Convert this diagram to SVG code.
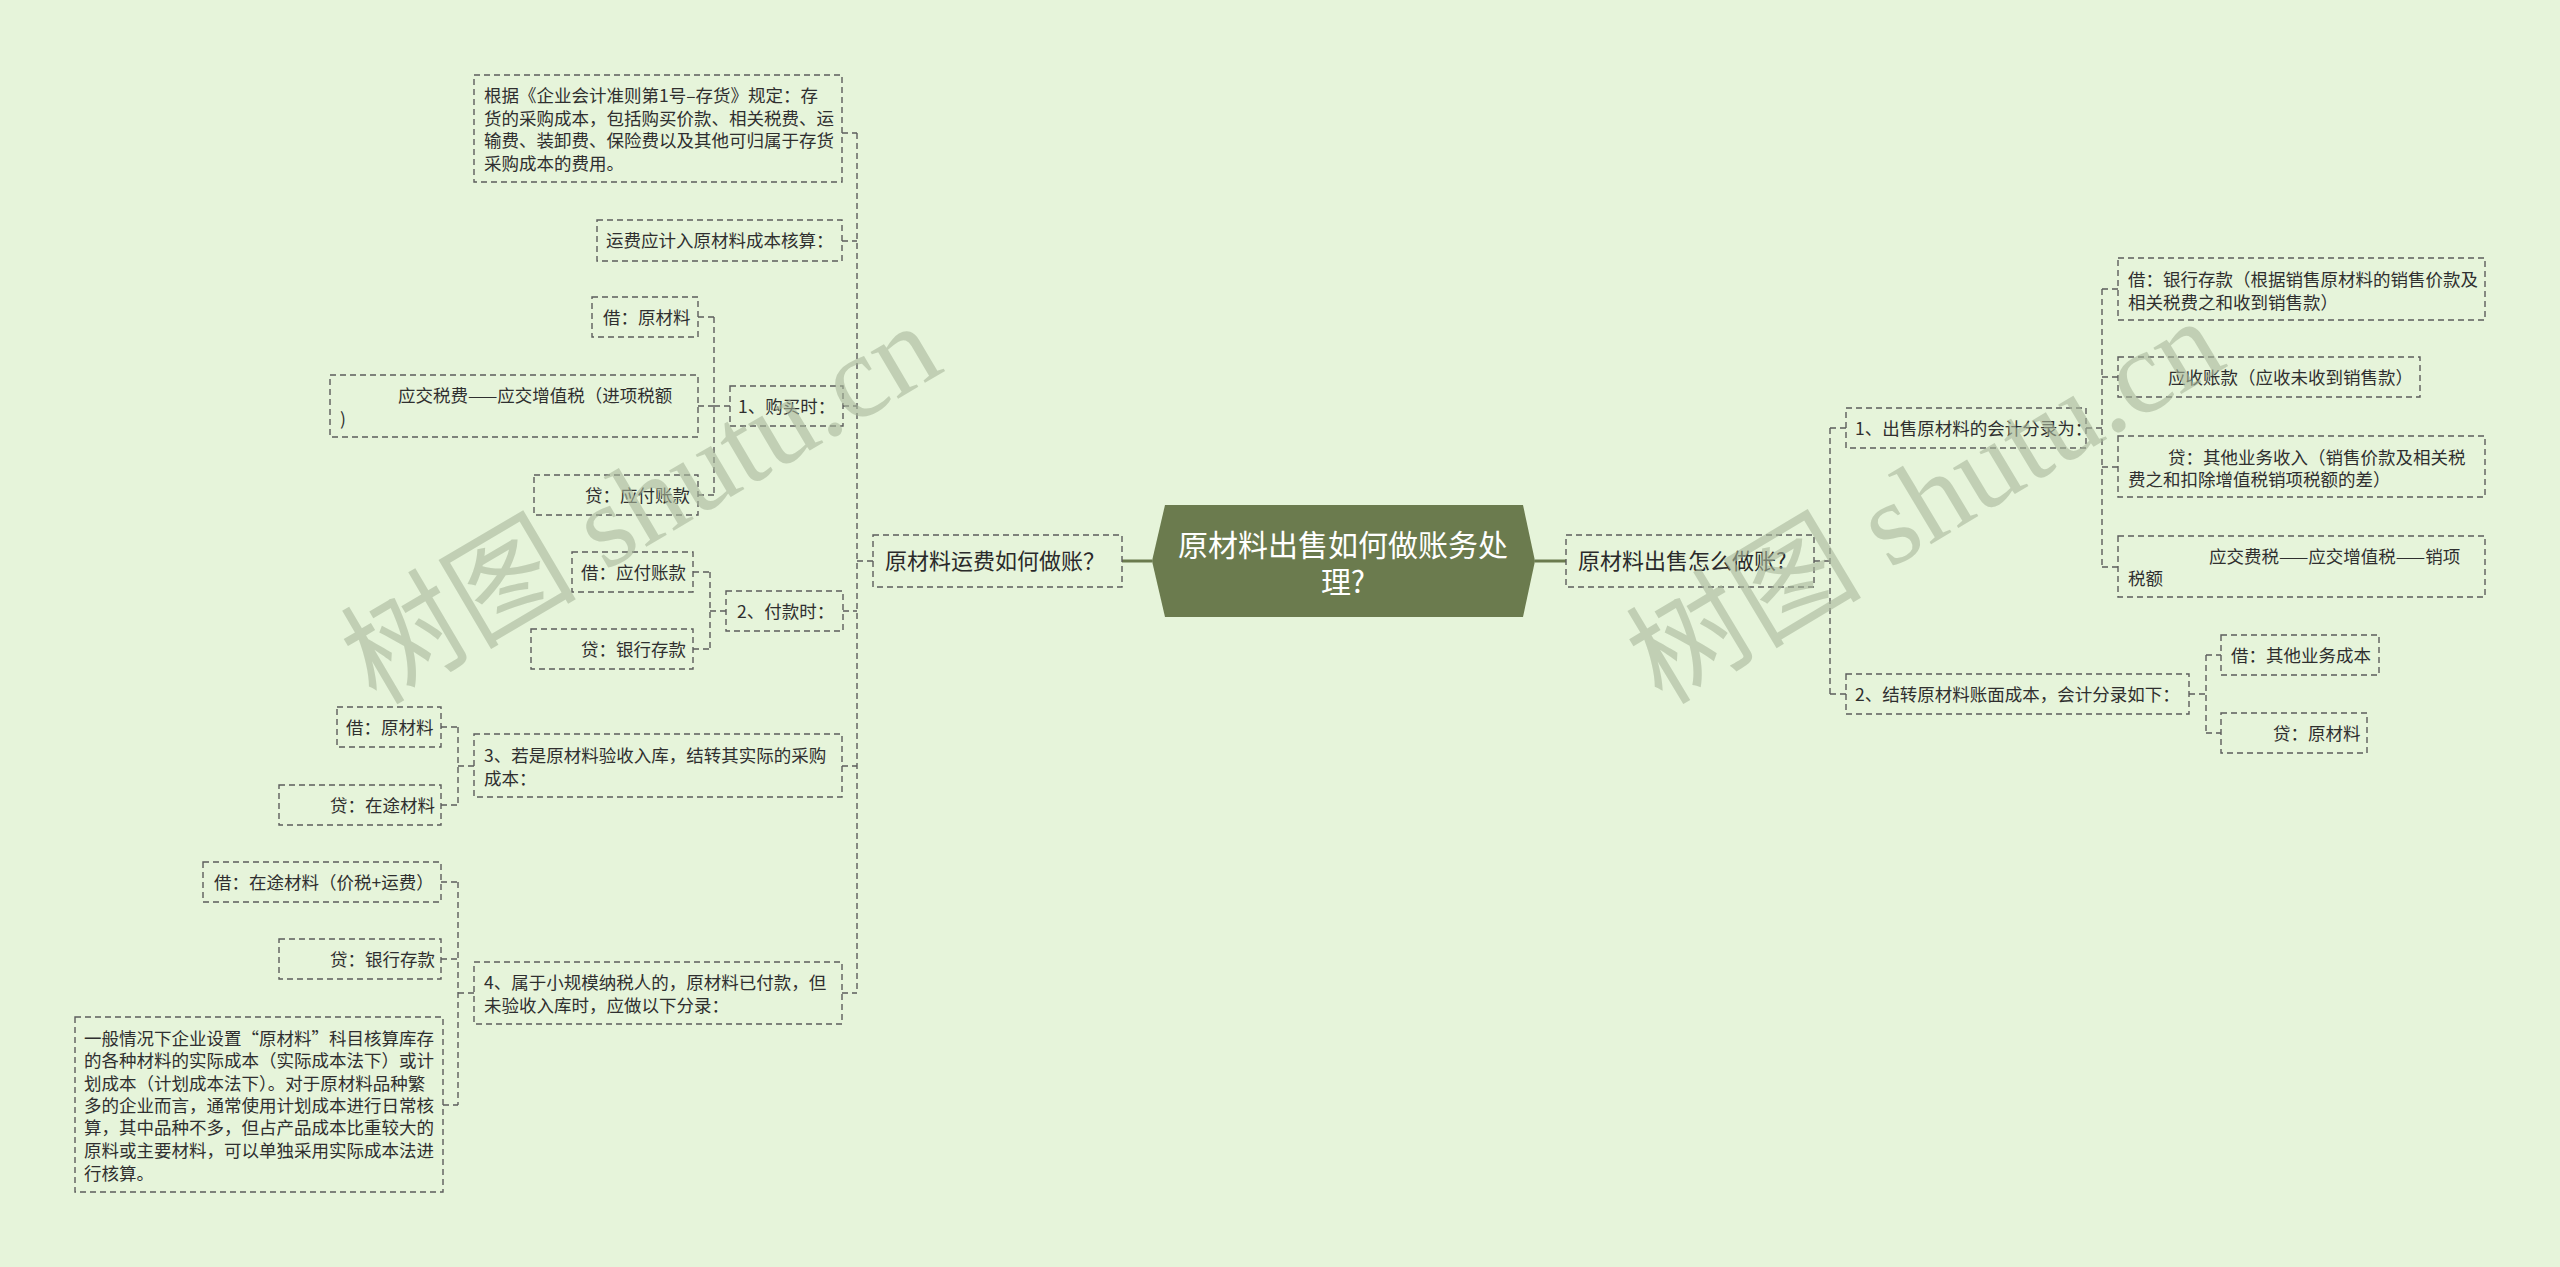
<svg xmlns="http://www.w3.org/2000/svg" width="2560" height="1267" viewBox="0 0 2560 1267">
<style>
.bg{fill:#e6f4da}
.box{fill:none;stroke:#5c5c5c;stroke-width:1.4;stroke-dasharray:6 4}
.t{font-family:"Noto Sans CJK SC","Noto Sans",sans-serif;font-size:17.5px;fill:#2f2f2f}
.m{font-family:"Noto Sans CJK SC","Noto Sans",sans-serif;font-size:22px;fill:#2a2a2a}
.c{font-family:"Noto Sans CJK SC","Noto Sans",sans-serif;font-size:30px;fill:#ffffff;text-anchor:middle}
.dl{fill:none;stroke:#5c5c5c;stroke-width:1.4;stroke-dasharray:6 4}
.sl{fill:none;stroke:#6b7b4e;stroke-width:3}
.wm{font-family:"Liberation Serif","Noto Sans CJK SC",serif;font-size:118px;fill:#a9b89c;opacity:0.6}
</style>
<rect class="bg" x="0" y="0" width="2560" height="1267"/>

<g id="connectors">
<path class="sl" d="M1122,561 H1152"/>
<path class="sl" d="M1535,561 H1566"/>
<path class="dl" d="M873,561 H857 M857,133 V993 M842,133 H857 M842,241 H857 M843,406 H857 M843,611 H857 M842,766 H857 M842,993 H857"/>
<path class="dl" d="M730,406 H714 M714,317 V495 M698,317 H714 M698,406 H714 M698,495 H714"/>
<path class="dl" d="M726,611 H710 M710,572 V649 M693,572 H710 M693,649 H710"/>
<path class="dl" d="M474,766 H458 M458,727 V805 M441,727 H458 M441,805 H458"/>
<path class="dl" d="M474,993 H458 M458,882 V1105 M441,882 H458 M441,959 H458 M443,1105 H458"/>
<path class="dl" d="M1814,561 H1830 M1830,428 V694 M1830,428 H1846 M1830,694 H1846"/>
<path class="dl" d="M2086,428 H2102 M2102,289 V567 M2102,289 H2118 M2102,377 H2118 M2102,467 H2118 M2102,567 H2118"/>
<path class="dl" d="M2189,694 H2206 M2206,655 V733 M2206,655 H2221 M2206,733 H2221"/>
</g>

<g id="center">
<polygon points="1152,561 1165,505 1523,505 1535,561 1523,617 1165,617" fill="#6b7b4e"/>
<text class="c" x="1343" y="556">原材料出售如何做账务处</text>
<text class="c" x="1343" y="593">理?</text>
</g>

<g id="n_lmain">
<rect class="box" x="873" y="535" width="249" height="52"/>
<text class="m" x="885" y="569">原材料运费如何做账？</text>
</g>
<g id="n_rmain">
<rect class="box" x="1566" y="535" width="248" height="52"/>
<text class="m" x="1578" y="569">原材料出售怎么做账?</text>
</g>

<g id="n_l1">
<rect class="box" x="474" y="75" width="368" height="107"/>
<text class="t"><tspan x="484" y="102">根据《企业会计准则第1号–存货》规定：存</tspan><tspan x="484" y="125">货的采购成本，包括购买价款、相关税费、运</tspan><tspan x="484" y="147">输费、装卸费、保险费以及其他可归属于存货</tspan><tspan x="484" y="170">采购成本的费用。</tspan></text>
</g>
<g id="n_l2">
<rect class="box" x="597" y="220" width="245" height="41"/>
<text class="t" x="606" y="247">运费应计入原材料成本核算：</text>
</g>
<g id="n_g1">
<rect class="box" x="730" y="386" width="113" height="40"/>
<text class="t" x="738" y="413">1、购买时：</text>
</g>
<g id="n_g1a">
<rect class="box" x="592" y="297" width="106" height="40"/>
<text class="t" x="603" y="324">借：原材料</text>
</g>
<g id="n_g1b">
<rect class="box" x="330" y="375" width="368" height="62"/>
<text class="t"><tspan x="398" y="402">应交税费——应交增值税（进项税额</tspan><tspan x="340" y="425">)</tspan></text>
</g>
<g id="n_g1c">
<rect class="box" x="534" y="475" width="164" height="40"/>
<text class="t" x="585" y="502">贷：应付账款</text>
</g>
<g id="n_g2">
<rect class="box" x="726" y="591" width="117" height="40"/>
<text class="t" x="737" y="618">2、付款时：</text>
</g>
<g id="n_g2a">
<rect class="box" x="572" y="552" width="121" height="40"/>
<text class="t" x="581" y="579">借：应付账款</text>
</g>
<g id="n_g2b">
<rect class="box" x="531" y="629" width="162" height="40"/>
<text class="t" x="581" y="656">贷：银行存款</text>
</g>
<g id="n_g3">
<rect class="box" x="474" y="734" width="368" height="63"/>
<text class="t"><tspan x="484" y="762">3、若是原材料验收入库，结转其实际的采购</tspan><tspan x="484" y="785">成本：</tspan></text>
</g>
<g id="n_g3a">
<rect class="box" x="337" y="707" width="104" height="40"/>
<text class="t" x="346" y="734">借：原材料</text>
</g>
<g id="n_g3b">
<rect class="box" x="279" y="785" width="162" height="40"/>
<text class="t" x="330" y="812">贷：在途材料</text>
</g>
<g id="n_g4">
<rect class="box" x="474" y="962" width="368" height="62"/>
<text class="t"><tspan x="484" y="989">4、属于小规模纳税人的，原材料已付款，但</tspan><tspan x="484" y="1012">未验收入库时，应做以下分录：</tspan></text>
</g>
<g id="n_g4a">
<rect class="box" x="203" y="862" width="238" height="40"/>
<text class="t" x="214" y="889">借：在途材料（价税+运费）</text>
</g>
<g id="n_g4b">
<rect class="box" x="279" y="939" width="162" height="40"/>
<text class="t" x="330" y="966">贷：银行存款</text>
</g>
<g id="n_g4c">
<rect class="box" x="75" y="1017" width="368" height="175"/>
<text class="t"><tspan x="84" y="1045">一般情况下企业设置“原材料”科目核算库存</tspan><tspan x="84" y="1067">的各种材料的实际成本（实际成本法下）或计</tspan><tspan x="84" y="1090">划成本（计划成本法下）。对于原材料品种繁</tspan><tspan x="84" y="1112">多的企业而言，通常使用计划成本进行日常核</tspan><tspan x="84" y="1134">算，其中品种不多，但占产品成本比重较大的</tspan><tspan x="84" y="1157">原料或主要材料，可以单独采用实际成本法进</tspan><tspan x="84" y="1180">行核算。</tspan></text>
</g>

<g id="n_r1">
<rect class="box" x="1846" y="408" width="240" height="40"/>
<text class="t" x="1855" y="435">1、出售原材料的会计分录为：</text>
</g>
<g id="n_r1a">
<rect class="box" x="2118" y="258" width="367" height="62"/>
<text class="t"><tspan x="2128" y="286">借：银行存款（根据销售原材料的销售价款及</tspan><tspan x="2128" y="309">相关税费之和收到销售款）</tspan></text>
</g>
<g id="n_r1b">
<rect class="box" x="2118" y="357" width="302" height="40"/>
<text class="t" x="2168" y="384">应收账款（应收未收到销售款）</text>
</g>
<g id="n_r1c">
<rect class="box" x="2118" y="436" width="367" height="61"/>
<text class="t"><tspan x="2168" y="464">贷：其他业务收入（销售价款及相关税</tspan><tspan x="2128" y="486">费之和扣除增值税销项税额的差）</tspan></text>
</g>
<g id="n_r1d">
<rect class="box" x="2118" y="536" width="367" height="61"/>
<text class="t"><tspan x="2209" y="563">应交费税——应交增值税——销项</tspan><tspan x="2128" y="585">税额</tspan></text>
</g>
<g id="n_r2">
<rect class="box" x="1846" y="674" width="343" height="40"/>
<text class="t" x="1855" y="701">2、结转原材料账面成本，会计分录如下：</text>
</g>
<g id="n_r2a">
<rect class="box" x="2221" y="635" width="158" height="40"/>
<text class="t" x="2231" y="662">借：其他业务成本</text>
</g>
<g id="n_r2b">
<rect class="box" x="2221" y="713" width="146" height="40"/>
<text class="t" x="2273" y="740">贷：原材料</text>
</g>

<g id="watermarks">
<text class="wm" transform="translate(376,706) rotate(-30.5)"><tspan font-family="Noto Sans CJK SC, sans-serif">树图</tspan> shutu.cn</text>
<text class="wm" transform="translate(1662,706) rotate(-31)"><tspan font-family="Noto Sans CJK SC, sans-serif">树图</tspan> shutu.cn</text>
</g>
</svg>
